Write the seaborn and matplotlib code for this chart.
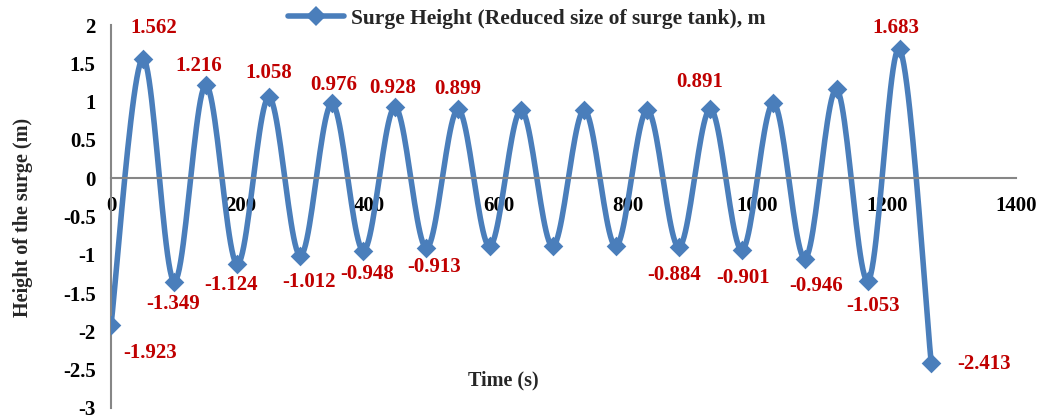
import numpy as np
import pandas as pd
import seaborn as sns
import matplotlib.pyplot as plt
from matplotlib.lines import Line2D

# data (point spacing ~48.8 s)
time_s = [0, 48.8, 97.6, 146.4, 195.2, 244, 292.8, 341.6, 390.4, 439.2, 488, 536.8,
          585.6, 634.4, 683.2, 732, 780.8, 829.6, 878.4, 927.2, 976, 1024.8, 1073.6,
          1122.4, 1171.2, 1220, 1268.8]
height_m = [-1.923, 1.562, -1.349, 1.216, -1.124, 1.058, -1.012, 0.976, -0.948, 0.928,
            -0.913, 0.899, -0.89, 0.89, -0.89, 0.89, -0.89, 0.89, -0.90, 0.905,
            -0.94, 0.98, -1.05, 1.16, -1.34, 1.683, -2.413]

# labels as printed on the chart: (point index, text, offset in px)
label_idx = [0, 1, 2, 3, 4, 5, 6, 7, 8, 9, 10, 11, 18, 19, 20, 22, 24, 25, 26]
label_txt = ["-1.923", "1.562", "-1.349", "1.216", "-1.124", "1.058", "-1.012", "0.976",
             "-0.948", "0.928", "-0.913", "0.899", "-0.884", "0.891", "-0.901", "-0.946",
             "-1.053", "1.683", "-2.413"]
label_off = [(39, -28), (11, 31), (-1, -22), (-7, 19), (-6, -21), (0, 24), (9, -26),
             (2, 18), (4, -23), (-2, 19), (8, -19), (0, 20), (-5, -28), (-11, 27),
             (1, -28), (11, -27), (5, -25), (-4, 21), (53, -1)]

df = pd.DataFrame({"time": time_s, "height": height_m})


# Excel-like smoothed line (Catmull-Rom through the points)
def smooth(x, y, n=25):
    x = np.asarray(x, float)
    y = np.asarray(y, float)
    px = np.concatenate([[x[0]], x, [x[-1]]])
    py = np.concatenate([[y[0]], y, [y[-1]]])
    t = np.linspace(0, 1, n)
    xs, ys = [], []
    for i in range(1, len(px) - 2):
        for p, out in ((px, xs), (py, ys)):
            p0, p1, p2, p3 = p[i - 1], p[i], p[i + 1], p[i + 2]
            out.extend(0.5 * ((2 * p1) + (-p0 + p2) * t
                              + (2 * p0 - 5 * p1 + 4 * p2 - p3) * t ** 2
                              + (-p0 + 3 * p1 - 3 * p2 + p3) * t ** 3))
    return pd.DataFrame({"time": xs, "height": ys})


df_smooth = smooth(df["time"], df["height"])

sns.set_style("white")
plt.rcParams['font.family'] = ['Liberation Serif', 'DejaVu Serif']
plt.rcParams['font.weight'] = 'bold'

blue = "#4A7EBB"
red = "#C00000"
grey = "#868686"

fig = plt.figure(figsize=(10.39, 4.19), dpi=100)
ax = fig.add_axes([0.1068, 0.0263, 0.8711, 0.9140])

sns.lineplot(data=df_smooth, x="time", y="height", color=blue, linewidth=4,
             sort=False, ax=ax, legend=False)
sns.scatterplot(data=df, x="time", y="height", color=blue, marker="D", s=100,
                linewidth=0, ax=ax, legend=False, zorder=3)

for i, txt, off in zip(label_idx, label_txt, label_off):
    ax.annotate(txt, (time_s[i], height_m[i]), xytext=off, textcoords="offset pixels",
                ha="center", va="center", color=red, fontsize=15, fontweight="bold")

ax.set_xlim(0, 1400)
ax.set_ylim(-3, 2)
ax.set_xticks(np.arange(0, 1401, 200))
ax.set_yticks(np.arange(-3, 2.01, 0.5))
ax.set_yticklabels([f"{v:g}" for v in np.arange(-3, 2.01, 0.5)])

ax.spines["bottom"].set_position(("data", 0))
ax.spines["top"].set_visible(False)
ax.spines["right"].set_visible(False)
for s in ("left", "bottom"):
    ax.spines[s].set_color(grey)
    ax.spines[s].set_linewidth(1.5)
ax.tick_params(axis="both", direction="out", length=5, width=1.5, color=grey,
               labelsize=15, labelcolor="black")
ax.tick_params(axis="x", pad=8)
ax.tick_params(axis="y", pad=6)
for lab in ax.get_xticklabels() + ax.get_yticklabels():
    lab.set_fontweight("bold")

ax.set_xlabel("")
ax.set_ylabel("")
fig.text(0.484, 0.093, "Time (s)", ha="center", va="center", fontsize=14.5,
         fontweight="bold")
fig.text(0.022, 0.48, "Height of the surge (m)", ha="center", va="center",
         rotation=90, fontsize=14.5, fontweight="bold")

handle = Line2D([], [], color=blue, linewidth=4, marker="D", markersize=10,
                markeredgewidth=0)
fig.legend([handle], ["Surge Height (Reduced size of surge tank), m"],
           loc="center", bbox_to_anchor=(0.507, 0.955), frameon=False,
           prop={"size": 15.5, "weight": "bold"}, handlelength=2.6, handletextpad=0.35)

fig.savefig("out.png", dpi=100)
